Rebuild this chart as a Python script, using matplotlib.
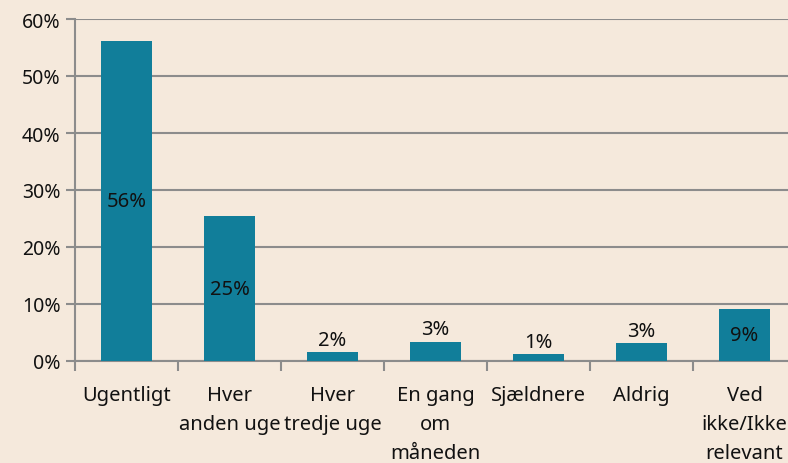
import numpy as np
import matplotlib.pyplot as plt

categories = ["Ugentligt", "Hver\nanden uge", "Hver\ntredje uge", "En gang\nom\nmåneden",
              "Sjældnere", "Aldrig", "Ved\nikke/Ikke\nrelevant"]
values = [56.2, 25.4, 1.6, 3.4, 1.2, 3.1, 9.1]
labels = ["56%", "25%", "2%", "3%", "1%", "3%", "9%"]

bg = "#F5E9DC"
bar_color = "#117E9A"
grid_color = "#8C8C8C"

plt.rcParams['font.family'] = ['Noto Sans', 'DejaVu Sans']

fig = plt.figure(figsize=(7.88, 4.64), dpi=100, facecolor=bg)
# plot area runs a bit past the right edge, like the original
ax = fig.add_axes([75 / 788, 102 / 464, 721 / 788, 342 / 464])
ax.set_facecolor(bg)

x = np.arange(len(categories))
ax.bar(x, values, width=0.5, color=bar_color, zorder=3)

for xi, v, lab in zip(x, values, labels):
    if v > 5:
        ax.text(xi, v / 2, lab, ha="center", va="center", fontsize=14.5, color="#111111", zorder=4)
    else:
        ax.text(xi, v + 0.4, lab, ha="center", va="bottom", fontsize=14.5, color="#111111", zorder=4)

ax.set_xlim(-0.5, len(categories) - 0.5)
ax.set_ylim(0, 60)
ax.set_yticks(np.arange(0, 61, 10))
ax.set_yticklabels([f"{t}%" for t in range(0, 61, 10)])
ax.yaxis.grid(True, color=grid_color, linewidth=1.5, zorder=0)
ax.tick_params(axis="y", length=6.5, width=1.5, color=grid_color, labelsize=14, pad=4,
               labelcolor="#111111")

ax.set_xticks(x)
ax.set_xticklabels(categories, fontsize=14.5, color="#111111", linespacing=1.6)
ax.set_xticks(np.arange(-0.5, len(categories), 1), minor=True)
ax.tick_params(axis="x", which="major", length=0, pad=17)
ax.tick_params(axis="x", which="minor", length=7, width=1.5, color=grid_color)

for s in ["top", "right"]:
    ax.spines[s].set_visible(False)
for s in ["left", "bottom"]:
    ax.spines[s].set_color(grid_color)
    ax.spines[s].set_linewidth(1.5)

fig.savefig("out.png", dpi=100, facecolor=bg)
